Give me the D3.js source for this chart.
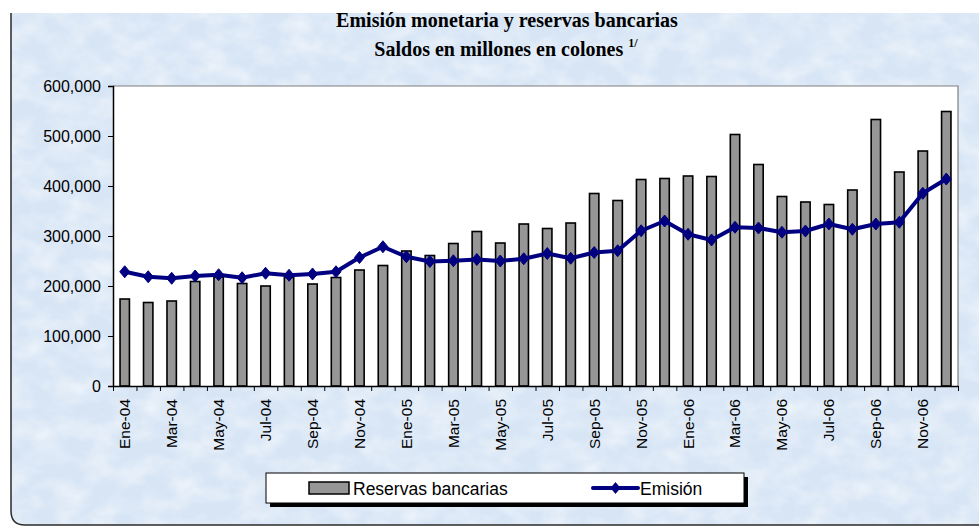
<!DOCTYPE html>
<html>
<head>
<meta charset="utf-8">
<script src="https://cdn.jsdelivr.net/npm/d3@7"></script>
<style>
  body { margin: 0; background: #ffffff; }
  svg { display: block; }
  .axis text { font-family: "Liberation Sans", Arial, sans-serif; fill: #000; }
  .axis path, .axis line { stroke: #000; }
</style>
</head>
<body>
<svg id="chart"></svg>
<script>
var options = {
    width: 979,
    height: 527,
    plotLeft: 113,
    plotRight: 958,
    plotTop: 86,
    plotBottom: 386
};

// months shown on the x axis
var months = ['Ene-04','Feb-04','Mar-04','Abr-04','May-04','Jun-04','Jul-04','Ago-04','Sep-04','Oct-04','Nov-04','Dic-04',
    'Ene-05','Feb-05','Mar-05','Abr-05','May-05','Jun-05','Jul-05','Ago-05','Sep-05','Oct-05','Nov-05','Dic-05',
    'Ene-06','Feb-06','Mar-06','Abr-06','May-06','Jun-06','Jul-06','Ago-06','Sep-06','Oct-06','Nov-06','Dic-06'];

// Reservas bancarias (bars)
var reservas = [174000, 167000, 170000, 209000, 218000, 205000, 200000, 217000, 204000, 217000, 232000, 241000,
    270000, 261000, 285000, 309000, 286000, 324000, 315000, 326000, 385000, 371000, 413000, 415000,
    420000, 419000, 503000, 443000, 379000, 368000, 363000, 392000, 533000, 428000, 470000, 549000];

// Emisión (line)
var emision = [228500, 218500, 215500, 220000, 222500, 216500, 225500, 221500, 224000, 228500, 257000, 278500,
    258500, 249000, 250500, 253000, 250000, 254500, 265000, 255500, 267000, 270500, 310500, 330000,
    303500, 292000, 317500, 316000, 307500, 310000, 324000, 313500, 324000, 327500, 385500, 414000];

var yTicks = [0, 100000, 200000, 300000, 400000, 500000, 600000];

var data = months.map(function(m, i) {
    return { month: m, reservas: reservas[i], emision: emision[i], i: i };
});

var svg = d3.select('#chart')
    .attr('width', options.width)
    .attr('height', options.height);

// textured light blue background
var defs = svg.append('defs');
var tex = defs.append('filter').attr('id', 'texture')
    .attr('x', 0).attr('y', 0).attr('width', '100%').attr('height', '100%');
tex.append('feTurbulence')
    .attr('type', 'fractalNoise')
    .attr('baseFrequency', '0.035 0.05')
    .attr('numOctaves', 3)
    .attr('seed', 7)
    .attr('result', 'noise');
tex.append('feColorMatrix')
    .attr('in', 'noise')
    .attr('type', 'matrix')
    .attr('values', '0 0 0 0 1  0 0 0 0 1  0 0 0 0 1  1.6 0 0 0 -0.55');

var bgPath = 'M11,13 L11,511 Q11,525 25,525 L990,525 L990,13 Z';
svg.append('path').attr('d', bgPath).attr('fill', '#d7e5f5');
svg.append('rect')
    .attr('x', 11).attr('y', 13).attr('width', 968).attr('height', 512)
    .attr('filter', 'url(#texture)')
    .style('opacity', 0.6);
svg.append('path')
    .attr('d', 'M11,13 L11,511 Q11,525 25,525 L990,525')
    .attr('fill', 'none')
    .attr('stroke', '#2b2b2b')
    .attr('stroke-width', 1.5);

// scales
var xBand = d3.scaleBand()
    .domain(months)
    .range([options.plotLeft, options.plotRight])
    .paddingInner(0.6)
    .paddingOuter(0.3);

var xTick = d3.scaleLinear()
    .domain([0, months.length])
    .range([options.plotLeft, options.plotRight]);

var yScale = d3.scaleLinear()
    .domain([0, 600000])
    .range([options.plotBottom, options.plotTop]);

// plot area
svg.append('rect')
    .attr('x', options.plotLeft)
    .attr('y', options.plotTop)
    .attr('width', options.plotRight - options.plotLeft)
    .attr('height', options.plotBottom - options.plotTop)
    .attr('fill', '#ffffff');
svg.append('path')
    .attr('d', 'M' + options.plotLeft + ',' + options.plotTop + 'H' + options.plotRight + 'V' + options.plotBottom)
    .attr('fill', 'none')
    .attr('stroke', '#7f7f7f')
    .attr('stroke-width', 1.2);

// bars
svg.append('g').attr('class', 'bars')
    .selectAll('rect')
    .data(data)
    .enter()
    .append('rect')
    .attr('x', function(d) { return xBand(d.month); })
    .attr('y', function(d) { return yScale(d.reservas); })
    .attr('width', xBand.bandwidth())
    .attr('height', function(d) { return yScale(0) - yScale(d.reservas); })
    .attr('fill', '#969696')
    .attr('stroke', '#000')
    .attr('stroke-width', 1.6);

// axes
var yAxis = d3.axisLeft(yScale)
    .tickValues(yTicks)
    .tickFormat(d3.format(','))
    .tickSize(5)
    .tickPadding(7);

svg.append('g')
    .attr('class', 'y axis')
    .attr('transform', 'translate(' + options.plotLeft + ',0)')
    .call(yAxis)
    .call(function(g) {
        g.selectAll('text').style('font-size', '16px');
        g.select('.domain').attr('stroke-width', 1.5);
    });

var xTickAxis = d3.axisBottom(xTick)
    .tickValues(d3.range(months.length + 1))
    .tickFormat('')
    .tickSize(5)
    .tickSizeOuter(0);

svg.append('g')
    .attr('class', 'x axis')
    .attr('transform', 'translate(0,' + options.plotBottom + ')')
    .call(xTickAxis)
    .call(function(g) { g.select('.domain').attr('stroke-width', 1.5); });

var xLabelAxis = d3.axisBottom(xBand)
    .tickValues(months.filter(function(m, i) { return i % 2 === 0; }))
    .tickSize(0)
    .tickSizeOuter(0);

svg.append('g')
    .attr('class', 'x axis labels')
    .attr('transform', 'translate(0,' + options.plotBottom + ')')
    .call(xLabelAxis)
    .call(function(g) {
        g.select('.domain').remove();
        g.selectAll('text')
            .style('font-size', '15.5px')
            .attr('text-anchor', 'end')
            .attr('dy', '0.35em')
            .attr('x', -13)
            .attr('y', 0)
            .attr('transform', 'rotate(-90)');
    });

// emision line
var line = d3.line()
    .x(function(d) { return xBand(d.month) + xBand.bandwidth() / 2; })
    .y(function(d) { return yScale(d.emision); });

svg.append('path')
    .datum(data)
    .attr('d', line)
    .attr('fill', 'none')
    .attr('stroke', '#000080')
    .attr('stroke-width', 4)
    .attr('stroke-linejoin', 'round');

var diamond = 'M0,-6L5,0L0,6L-5,0Z';
svg.append('g').attr('class', 'markers')
    .selectAll('path')
    .data(data)
    .enter()
    .append('path')
    .attr('d', diamond)
    .attr('transform', function(d) {
        return 'translate(' + (xBand(d.month) + xBand.bandwidth() / 2) + ',' + yScale(d.emision) + ')';
    })
    .attr('fill', '#000080')
    .attr('stroke', '#000080')
    .attr('stroke-width', 1);

// title
var title = svg.append('g')
    .style('font-family', '"Liberation Serif", "Times New Roman", serif')
    .style('font-weight', 'bold')
    .attr('text-anchor', 'middle');

title.append('text')
    .attr('x', 507)
    .attr('y', 27)
    .style('font-size', '20px')
    .text('Emisión monetaria y reservas bancarias');

var t2 = title.append('text')
    .attr('x', 506)
    .attr('y', 56)
    .style('font-size', '20px')
    .text('Saldos en millones en colones ');
t2.append('tspan')
    .attr('dy', -9)
    .style('font-size', '12px')
    .text('1/');

// legend
var legend = svg.append('g').attr('class', 'legend');
legend.append('rect')
    .attr('x', 270).attr('y', 477)
    .attr('width', 478).attr('height', 30)
    .attr('fill', '#000');
legend.append('rect')
    .attr('x', 266).attr('y', 473)
    .attr('width', 478).attr('height', 30)
    .attr('fill', '#fff')
    .attr('stroke', '#000')
    .attr('stroke-width', 1);

legend.append('rect')
    .attr('x', 309).attr('y', 482)
    .attr('width', 40).attr('height', 12)
    .attr('fill', '#969696')
    .attr('stroke', '#000')
    .attr('stroke-width', 1.5);
legend.append('text')
    .attr('x', 353).attr('y', 494.5)
    .style('font-family', '"Liberation Sans", Arial, sans-serif')
    .style('font-size', '17.5px')
    .text('Reservas bancarias');

legend.append('line')
    .attr('x1', 593).attr('x2', 638)
    .attr('y1', 488).attr('y2', 488)
    .attr('stroke', '#000080')
    .attr('stroke-width', 4)
    .attr('stroke-linecap', 'round');
legend.append('path')
    .attr('d', diamond)
    .attr('transform', 'translate(615.5,488)')
    .attr('fill', '#000080');
legend.append('text')
    .attr('x', 640).attr('y', 494.5)
    .style('font-family', '"Liberation Sans", Arial, sans-serif')
    .style('font-size', '17.5px')
    .text('Emisión');
</script>
</body>
</html>
